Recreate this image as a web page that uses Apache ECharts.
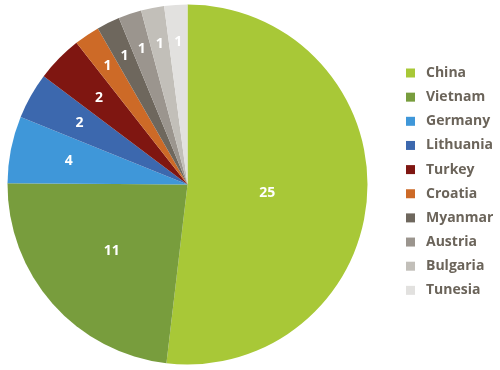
<!DOCTYPE html>
<html><head><meta charset="utf-8">
<script src="https://cdn.jsdelivr.net/npm/echarts@6/dist/echarts.min.js"></script>
<style>html,body{margin:0;padding:0;background:#fff}#c{width:500px;height:370px}</style>
</head><body><div id="c"></div>
<script>
const categories = ['China','Vietnam','Germany','Lithuania','Turkey','Croatia','Myanmar','Austria','Bulgaria','Tunesia'];
// slice sizes
const values = [25,11.2,2.9,2,2,1.1,1,1,1,1];
// value labels printed on the slices
const labelTexts = ['25','11','4','2','2','1','1','1','1','1'];
const colors = ['#a8c837','#789d3d','#3f97d9','#3c68ae','#7f1611','#cd6a27','#6e675d','#9b958e','#c2bfb9','#e2e1df'];

const chart = echarts.init(document.getElementById('c'));
const cx = 187.5, cy = 184.5;
chart.setOption({
  animation:false,
  legend:{
    orient:'vertical', left:401, top:61, itemWidth:9, itemHeight:9, itemGap:10.15,
    icon:'rect',
    textStyle:{color:'#6b645a', fontSize:14, fontWeight:'bold', fontFamily:'Open Sans', padding:[0,0,0,6]},
    data:categories
  },
  series:[{
    type:'pie', center:[cx,cy], radius:[0,180], startAngle:90, clockwise:true,
    color:colors,
    label:{show:true, position:'inside', color:'#fff', fontSize:14, fontWeight:'bold', fontFamily:'Open Sans',
      formatter:function(p){return labelTexts[p.dataIndex];}},
    labelLayout:function(p){
      const r = p.labelRect;
      const x = r.x + r.width/2, y = r.y + r.height/2;
      const dx = x - cx, dy = y - cy, d = Math.sqrt(dx*dx+dy*dy);
      const v = values[p.dataIndex];
      const target = v >= 20 ? 80 : (v >= 10 ? 101 : (v >= 2.5 ? 121 : (v >= 2 ? 124 : 143)));
      return {x: cx + dx/d*target, y: cy + dy/d*target + (v >= 20 ? 4 : 0), align:'center', verticalAlign:'middle'};
    },
    labelLine:{show:false},
    data:categories.map((n,i)=>({name:n, value:values[i]}))
  }]
});
</script></body></html>
